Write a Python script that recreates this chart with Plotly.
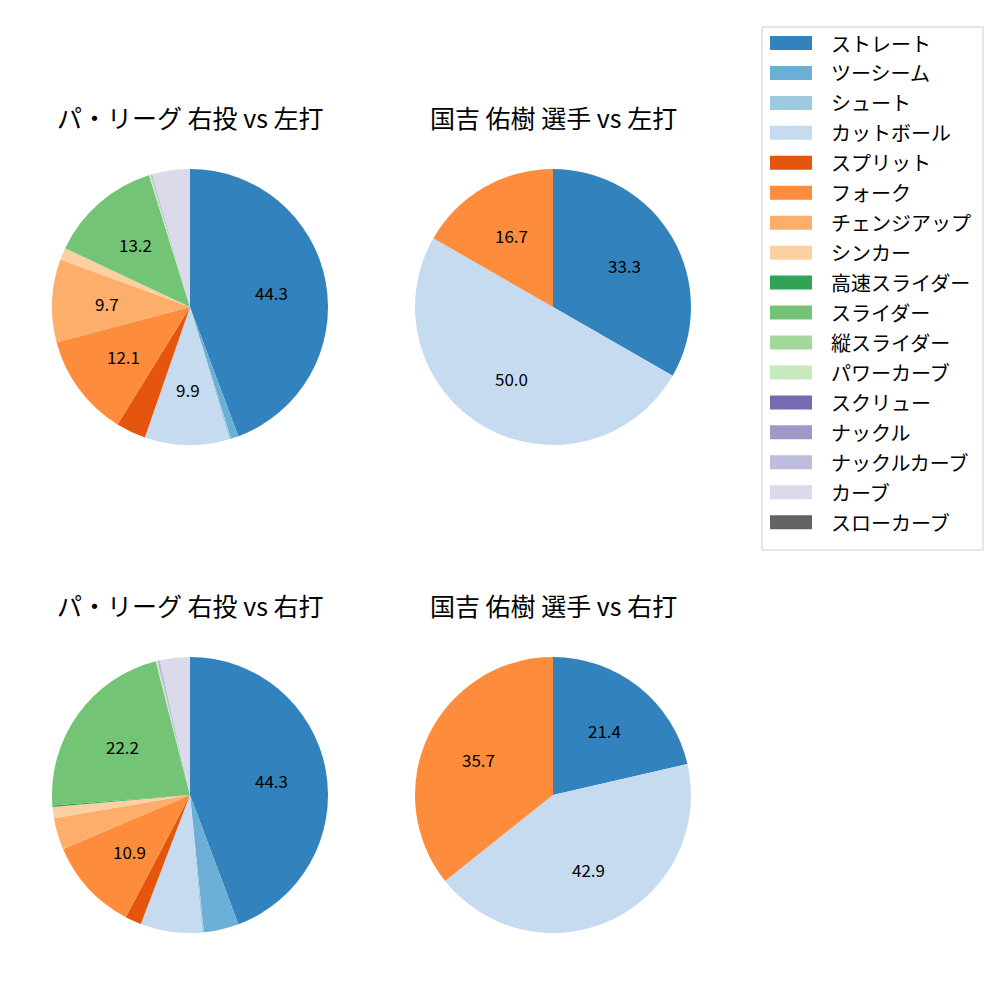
import math
import plotly.graph_objects as go

pitch_types = ["ストレート", "ツーシーム", "シュート", "カットボール", "スプリット", "フォーク",
               "チェンジアップ", "シンカー", "高速スライダー", "スライダー", "縦スライダー",
               "パワーカーブ", "スクリュー", "ナックル", "ナックルカーブ", "カーブ", "スローカーブ"]
colors = ["#3182bd", "#6baed6", "#9ecae1", "#c6dbef", "#e6550d", "#fd8d3c", "#fdae6b", "#fdd0a2",
          "#31a354", "#74c476", "#a1d99b", "#c7e9c0", "#756bb1", "#9e9ac8", "#bcbddc", "#dadaeb", "#636363"]

league_vs_left = [44.3, 0.9, 0.2, 9.9, 3.5, 12.1, 9.7, 1.4, 0.0, 13.2, 0.0, 0.2, 0.0, 0.0, 0.2, 4.4, 0.0]
player_vs_left = [33.3, 0, 0, 50.0, 0, 16.7, 0, 0, 0, 0, 0, 0, 0, 0, 0, 0, 0]
league_vs_right = [44.3, 4.1, 0.2, 7.2, 1.9, 10.9, 3.7, 1.3, 0.2, 22.2, 0.0, 0.2, 0.0, 0.0, 0.3, 3.5, 0.0]
player_vs_right = [21.4, 0, 0, 42.9, 0, 35.7, 0, 0, 0, 0, 0, 0, 0, 0, 0, 0, 0]

titles = ["パ・リーグ 右投 vs 左打", "国吉 佑樹 選手 vs 左打", "パ・リーグ 右投 vs 右打", "国吉 佑樹 選手 vs 右打"]
datasets = [league_vs_left, player_vs_left, league_vs_right, player_vs_right]

FONT = "Noto Sans CJK JP"
W = H = 1000
R = 138
centers = [(190, 307), (553, 307), (190, 795), (553, 795)]

fig = go.Figure()
annotations = []
shapes = []
for (cx, cy), vals, title in zip(centers, datasets, titles):
    fig.add_trace(go.Pie(
        labels=pitch_types, values=vals, sort=False, direction="clockwise", rotation=0,
        marker=dict(colors=colors, line=dict(width=0)),
        textinfo="none", hoverinfo="label+percent", showlegend=False,
        domain=dict(x=[(cx - R) / W, (cx + R) / W], y=[1 - (cy + R) / H, 1 - (cy - R) / H]),
    ))
    total = sum(vals)
    cum = 0.0
    for v in vals:
        pct = 100 * v / total if total else 0
        if pct >= 8:
            mid = (cum + v / 2) / total * 2 * math.pi
            tx = cx + 0.6 * R * math.sin(mid)
            ty = cy - 0.6 * R * math.cos(mid)
            annotations.append(dict(x=tx / W, y=1 - ty / H, xref="paper", yref="paper",
                                    xanchor="center", yanchor="middle",
                                    text=f"{pct:.1f}", showarrow=False,
                                    font=dict(family=FONT, size=17, color="black")))
        cum += v
    ty_title = 117 if cy < 500 else 605
    annotations.append(dict(x=cx / W, y=1 - ty_title / H, xref="paper", yref="paper",
                            xanchor="center", yanchor="middle", text=title, showarrow=False,
                            font=dict(family=FONT, size=25, color="black")))

# legend box
shapes.append(dict(type="rect", xref="paper", yref="paper", x0=762 / W, x1=983 / W,
                   y0=1 - 550 / H, y1=1 - 27 / H, line=dict(color="#cccccc", width=1),
                   fillcolor="white", layer="below"))
for i, (lab, col) in enumerate(zip(pitch_types, colors)):
    yc = 43 + i * 29.95
    shapes.append(dict(type="rect", xref="paper", yref="paper", x0=770 / W, x1=812 / W,
                       y0=1 - (yc + 7) / H, y1=1 - (yc - 7) / H, line=dict(width=0), fillcolor=col))
    annotations.append(dict(x=829 / W, y=1 - yc / H, xref="paper", yref="paper", text=lab,
                            showarrow=False, xanchor="left", yanchor="middle",
                            font=dict(family=FONT, size=20, color="black")))

fig.update_layout(width=W, height=H, margin=dict(l=0, r=0, t=0, b=0),
                  paper_bgcolor="white", plot_bgcolor="white",
                  annotations=annotations, shapes=shapes, showlegend=False)
fig.write_html("out.html")
